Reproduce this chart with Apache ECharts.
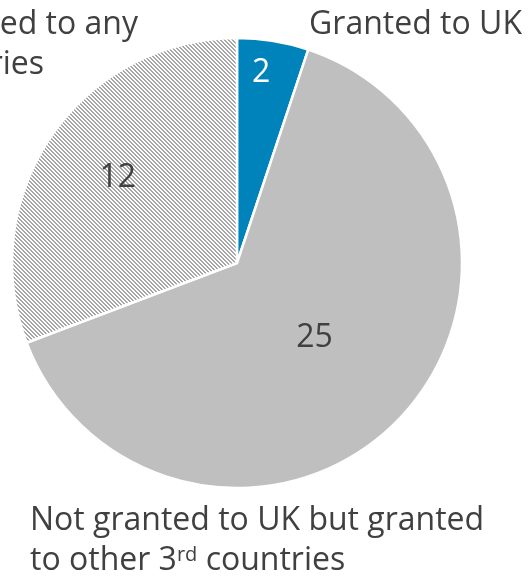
<!DOCTYPE html>
<html>
<head>
<meta charset="utf-8">
<script src="https://cdn.jsdelivr.net/npm/echarts@6/dist/echarts.min.js"></script>
<style>html,body{margin:0;padding:0;background:#fff;}#c{width:528px;height:579px;}</style>
</head>
<body>
<div id="c"></div>
<script>
const categories = ['Granted to UK', 'Not granted to UK but granted to other 3rd countries', 'Not granted to any 3rd countries'];
const values = [2, 25, 12];
const labelLines = [
  ['Granted to UK'],
  ['Not granted to UK but granted', 'to other 3{sup|rd} countries'],
  ['Not granted to any', '3{sup|rd} countries']
];

const FONT = 'Open Sans';
const FS = 32;
const LH = 40;
const CX = 237, CY = 263, R = 225;

// hatch pattern
const pc = document.createElement('canvas');
pc.width = 4; pc.height = 4;
const pctx = pc.getContext('2d');
pctx.fillStyle = '#ffffff'; pctx.fillRect(0,0,4,4);
pctx.fillStyle = '#a6a6a6';
for (let y = 0; y < 4; y++) for (let x = 0; x < 4; x++) {
  const d = ((x - y) % 4 + 4) % 4;
  if (d === 0 || d === 1) pctx.fillRect(x, y, 1, 1);
}
const colors = ['#0083BA', '#BFBFBF', { image: pc, repeat: 'repeat' }];
const valueColors = ['#ffffff', '#404040', '#404040'];

const mc = document.createElement('canvas').getContext('2d');
mc.font = FS + 'px "' + FONT + '"';
const leftW = mc.measureText('Not granted to any').width;

const total = values.reduce((a, b) => a + b, 0);
const mids = [];
let st = 90;
values.forEach(v => { mids.push(st - v / total * 180); st -= v / total * 360; });
const fracs = [0.85, 0.478, 0.652];
const angleShift = [2, 0, -1];

const catPos = [
  { x: 522, y: 5, align: 'right' },
  { x: 30, y: 501, align: 'left' },
  { x: 138 - leftW, y: 5, align: 'left' }
];

const rich = { sup: { fontFamily: FONT, fontSize: 20, lineHeight: 20, color: '#404040', verticalAlign: 'top', padding: [4, 0, 0, 0] } };

const chart = echarts.init(document.getElementById('c'), null, { renderer: 'canvas' });
chart.setOption({
  backgroundColor: '#ffffff',
  animation: false,
  series: [
    {
      type: 'pie',
      center: [CX, CY],
      radius: R,
      startAngle: 90,
      clockwise: true,
      silent: true,
      avoidLabelOverlap: false,
      data: categories.map((c, i) => ({ name: c, value: values[i], itemStyle: { color: colors[i] } })),
      itemStyle: { borderColor: '#ffffff', borderWidth: 2.5 },
      label: {
        show: true,
        position: 'outside',
        overflow: 'none',
        formatter: p => labelLines[p.dataIndex].join('\n'),
        fontFamily: FONT, fontSize: FS, color: '#404040', lineHeight: LH,
        rich: rich
      },
      labelLine: { show: false },
      labelLayout: p => ({ x: catPos[p.dataIndex].x, y: catPos[p.dataIndex].y, align: catPos[p.dataIndex].align, verticalAlign: 'top', hideOverlap: false, moveOverlap: null })
    },
    {
      type: 'pie',
      center: [CX, CY],
      radius: R,
      startAngle: 90,
      clockwise: true,
      silent: true,
      avoidLabelOverlap: false,
      data: categories.map((c, i) => ({ name: c, value: values[i], label: { color: valueColors[i] } })),
      itemStyle: { color: 'rgba(0,0,0,0)', borderWidth: 0 },
      label: {
        show: true,
        position: 'inside',
        formatter: '{c}',
        fontFamily: FONT, fontSize: FS
      },
      labelLine: { show: false },
      labelLayout: p => {
        const a = (mids[p.dataIndex] + angleShift[p.dataIndex]) * Math.PI / 180;
        const f = fracs[p.dataIndex];
        return { x: CX + f * R * Math.cos(a), y: CY - f * R * Math.sin(a), align: 'center', verticalAlign: 'middle', hideOverlap: false };
      }
    }
  ]
});
</script>
</body>
</html>
